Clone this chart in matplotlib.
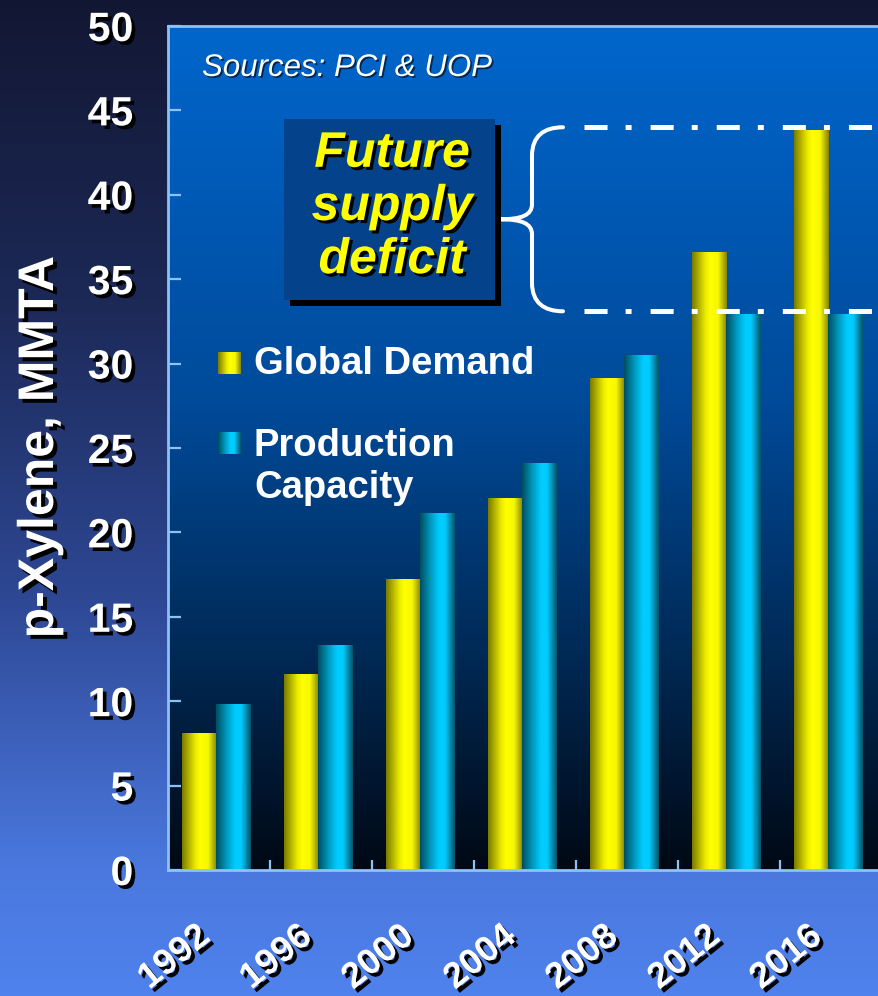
import matplotlib.pyplot as plt
import matplotlib.patheffects as pe
from matplotlib.patches import Rectangle, PathPatch
from matplotlib.path import Path
from matplotlib.colors import LinearSegmentedColormap
import numpy as np

plt.rcParams['font.family'] = ['Liberation Sans', 'DejaVu Sans']

years = ['1992', '1996', '2000', '2004', '2008', '2012', '2016']
demand = [8.1, 11.6, 17.2, 22.0, 29.1, 36.6, 43.8]
capacity = [9.8, 13.3, 21.1, 24.1, 30.5, 32.9, 32.9]
deficit_top = 44.0
deficit_bottom = 33.1
yticks = np.arange(0, 51, 5)

W, H = 879, 996
fig = plt.figure(figsize=(W / 100, H / 100), dpi=100)

# plot frame in pixels: left 168, right 882 (runs off the page), top 26, bottom 870
L, R, T, B = 168, 882, 26, 870


def ax_x(px):
    return (px - L) / (R - L)


def ax_y(py):
    return (B - py) / (B - T)


def shadow(off=2.6, a=1.0):
    return [pe.SimplePatchShadow(offset=(off, -off), shadow_rgbFace='black', alpha=a),
            pe.Normal()]


# page background, dark navy at the top to light blue at the bottom
bg = fig.add_axes([0, 0, 1, 1], zorder=-10)
bg_cmap = LinearSegmentedColormap.from_list('page', [
    (0.0, (0.07, 0.09, 0.20)),
    (0.3, (0.11, 0.16, 0.34)),
    (0.6, (0.18, 0.28, 0.58)),
    (0.87, (0.29, 0.47, 0.87)),
    (1.0, (0.31, 0.51, 0.93)),
])
bg.imshow(np.linspace(0, 1, 256).reshape(-1, 1), cmap=bg_cmap, aspect='auto',
          extent=[0, 1, 0, 1], origin='upper')
bg.axis('off')

ax = fig.add_axes([L / W, 1 - B / H, (R - L) / W, (B - T) / H])
ax.patch.set_visible(False)

n = len(years)
xmax, ymax = n, 50

# plot area background, bright blue fading to black
area_cmap = LinearSegmentedColormap.from_list('area', [
    (0.0, (0.0, 0.035, 0.08)),
    (0.25, (0.0, 0.16, 0.33)),
    (0.55, (0.0, 0.29, 0.60)),
    (1.0, (0.0, 0.40, 0.80)),
])
ax.imshow(np.linspace(0, 1, 256).reshape(-1, 1), cmap=area_cmap, aspect='auto',
          extent=[0, xmax, 0, ymax], origin='lower', zorder=0)


def cylinder(hi, pos, val, n=64):
    t = np.linspace(0, 1, n)
    b = np.interp(t, pos, val)
    img = np.array(hi)[None, None, :] * b[None, :, None]
    return np.clip(img, 0, 1)


yellow_img = cylinder((1.0, 1.0, 0.0), [0, 0.38, 0.52, 0.75, 1], [0.48, 0.92, 1, 0.97, 0.52])
cyan_img = cylinder((0.0, 0.8, 1.0), [0, 0.3, 0.55, 0.72, 1], [0.38, 0.75, 1, 1, 0.42])

x = np.arange(n)
w = 0.34
off = 0.135
d_bars = ax.bar(x + off, demand, w, align='edge', color='none', zorder=2)
c_bars = ax.bar(x + off + w, capacity, w, align='edge', color='none', zorder=2)

for bars, img in [(d_bars, yellow_img), (c_bars, cyan_img)]:
    for p in bars:
        ax.imshow(img, extent=[p.get_x(), p.get_x() + p.get_width(), 0, p.get_height()],
                  aspect='auto', zorder=2, interpolation='bilinear')

ax.set_xlim(0, xmax)
ax.set_ylim(0, ymax)

# frame and ticks
spine_col = '#8EC2F5'
for s in ['left', 'bottom', 'top']:
    ax.spines[s].set_color(spine_col)
    ax.spines[s].set_linewidth(2)
ax.spines['right'].set_visible(False)
ax.spines['bottom'].set_path_effects([
    pe.SimplePatchShadow(offset=(3, -3), shadow_rgbFace='black', alpha=0.85), pe.Normal()])

ax.set_yticks(yticks)
ax.tick_params(axis='y', direction='in', length=9.5, width=1.6, color=spine_col,
               pad=25, labelsize=29.5, labelcolor='white')
for lab in ax.get_yticklabels():
    lab.set_fontweight('bold')
    lab.set_path_effects(shadow())

ax.set_xticks(np.arange(1, n))
ax.set_xticklabels([])
ax.tick_params(axis='x', direction='in', length=7, width=1.6, color=spine_col)

for i, yr in enumerate(years):
    ax.text(i + 0.5 - 0.13, -62 / (B - T), yr, transform=ax.get_xaxis_transform(),
            rotation=39, rotation_mode='anchor', ha='right', va='center',
            fontsize=26, fontweight='bold', color='white', path_effects=shadow())

fig.text(40 / W, 1 - 447 / H, 'p-Xylene, MMTA', rotation=90, ha='center', va='center',
         fontsize=36, fontweight='bold', color='white', path_effects=shadow(2.8))

# deficit band: dash-dot guide lines and a brace
lw = 3.6
for yv in [deficit_top, deficit_bottom]:
    ax.plot([ax_x(584) * xmax, xmax], [yv, yv], color='white', lw=lw,
            dashes=[16.6 / lw, 13 / lw, 4.3 / lw, 13.7 / lw], dash_capstyle='butt',
            zorder=3, clip_on=False)

xe, xs, xt = ax_x(563) * xmax, ax_x(532) * xmax, ax_x(500) * xmax
mid = (deficit_top + deficit_bottom) / 2
verts = [
    (xe, deficit_top),
    (xs + 0.12, deficit_top), (xs, deficit_top - 0.5), (xs, deficit_top - 1.7),
    (xs, mid + 0.9),
    (xs, mid + 0.25), (xs - 0.1, mid), (xt, mid),
    (xs - 0.1, mid), (xs, mid - 0.25), (xs, mid - 0.9),
    (xs, deficit_bottom + 1.7),
    (xs, deficit_bottom + 0.5), (xs + 0.12, deficit_bottom), (xe, deficit_bottom),
]
codes = [Path.MOVETO, Path.CURVE4, Path.CURVE4, Path.CURVE4, Path.LINETO,
         Path.CURVE4, Path.CURVE4, Path.CURVE4, Path.CURVE4, Path.CURVE4, Path.CURVE4,
         Path.LINETO, Path.CURVE4, Path.CURVE4, Path.CURVE4]
ax.add_patch(PathPatch(Path(verts, codes), fc='none', ec='white', lw=2.9,
                       capstyle='round', joinstyle='round', zorder=3))

box = Rectangle((ax_x(284), ax_y(300)), ax_x(495) - ax_x(284), ax_y(119) - ax_y(300),
                transform=ax.transAxes, fc=(0.02, 0.26, 0.55), ec='none', zorder=5,
                path_effects=[pe.withSimplePatchShadow(offset=(4, -4), shadow_rgbFace='black', alpha=1)])
ax.add_patch(box)
ax.text(ax_x(392), ax_y(207), 'Future\nsupply\ndeficit', transform=ax.transAxes,
        ha='center', va='center', color='#FFFF00', fontsize=36, fontweight='bold',
        fontstyle='italic', linespacing=1.2, zorder=6, path_effects=shadow(2.2))

ax.text(ax_x(202), ax_y(68), 'Sources: PCI & UOP', transform=ax.transAxes,
        ha='left', va='center', color='white', fontsize=22.5, fontstyle='italic',
        zorder=6, path_effects=shadow(1.2, 0.6))

# legend
for (top, img) in [(352, yellow_img), (432, cyan_img)]:
    sq = ax.inset_axes([ax_x(218), ax_y(top + 22), ax_x(241) - ax_x(218), ax_y(top) - ax_y(top + 22)])
    sq.imshow(img, aspect='auto', interpolation='bilinear')
    sq.axis('off')

ax.text(ax_x(254), ax_y(364), 'Global Demand', transform=ax.transAxes, ha='left', va='center',
        color='white', fontsize=27.5, fontweight='bold', zorder=6)
ax.text(ax_x(254), ax_y(467), 'Production\nCapacity', transform=ax.transAxes, ha='left',
        va='center', color='white', fontsize=27.5, fontweight='bold', linespacing=1.2, zorder=6)

fig.savefig('out.png', dpi=100)
